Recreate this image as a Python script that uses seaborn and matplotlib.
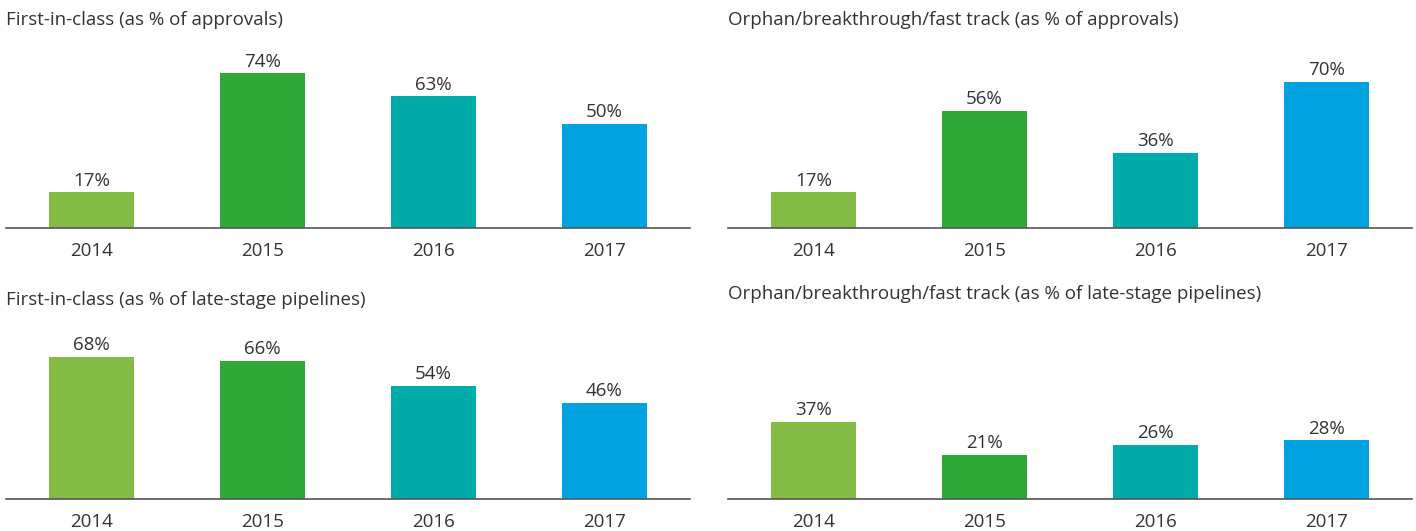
import matplotlib
matplotlib.use("Agg")
import matplotlib.pyplot as plt
import seaborn as sns
import pandas as pd

# --- data ---
years = ["2014", "2015", "2016", "2017"]
fic_approvals = [17, 74, 63, 50]
orphan_approvals = [17, 56, 36, 70]
fic_pipelines = [68, 66, 54, 46]
orphan_pipelines = [37, 21, 26, 28]

titles = [
    "First-in-class (as % of approvals)",
    "Orphan/breakthrough/fast track (as % of approvals)",
    "First-in-class (as % of late-stage pipelines)",
    "Orphan/breakthrough/fast track (as % of late-stage pipelines)",
]
colors = ["#84BC45", "#2EA836", "#00ABA9", "#00A3E0"]
text_color = "#333333"
fs = 13.5

sns.set_theme(style="white")
plt.rcParams["font.family"] = ["Open Sans", "DejaVu Sans"]
plt.rcParams["text.color"] = text_color

W, H = 1416, 531
fig = plt.figure(figsize=(W / 100, H / 100), dpi=100)

px_per_pct = 2.09
ymax = 80
ax_h = ymax * px_per_pct

# (series, left px, baseline px, title baseline px)
panels = [
    (fic_approvals, 6, 228, 25),
    (orphan_approvals, 728, 228, 25),
    (fic_pipelines, 6, 499, 305),
    (orphan_pipelines, 728, 499, 299),
]

for (vals, left, base, tbase), title in zip(panels, titles):
    ax = fig.add_axes([left / W, (H - base) / H, 684 / W, ax_h / H])
    df = pd.DataFrame({"year": years, "value": vals})
    sns.barplot(data=df, x="year", y="value", hue="year", palette=colors,
                width=0.5, legend=False, ax=ax, saturation=1, linewidth=0)
    for c in ax.containers:
        ax.bar_label(c, fmt="%d%%", padding=2, fontsize=fs, color=text_color)
    ax.set_xlim(-0.5, 3.5)
    ax.set_ylim(0, ymax)
    ax.set_xlabel("")
    ax.set_ylabel("")
    ax.set_yticks([])
    ax.tick_params(axis="x", length=0, pad=10, labelsize=fs, labelcolor=text_color)
    for s in ["top", "left", "right"]:
        ax.spines[s].set_visible(False)
    ax.spines["bottom"].set_color("#555555")
    ax.spines["bottom"].set_linewidth(1.2)
    fig.text(left / W, (H - tbase) / H, title, fontsize=fs, color=text_color,
             ha="left", va="baseline")

fig.savefig("out.png", dpi=100)
